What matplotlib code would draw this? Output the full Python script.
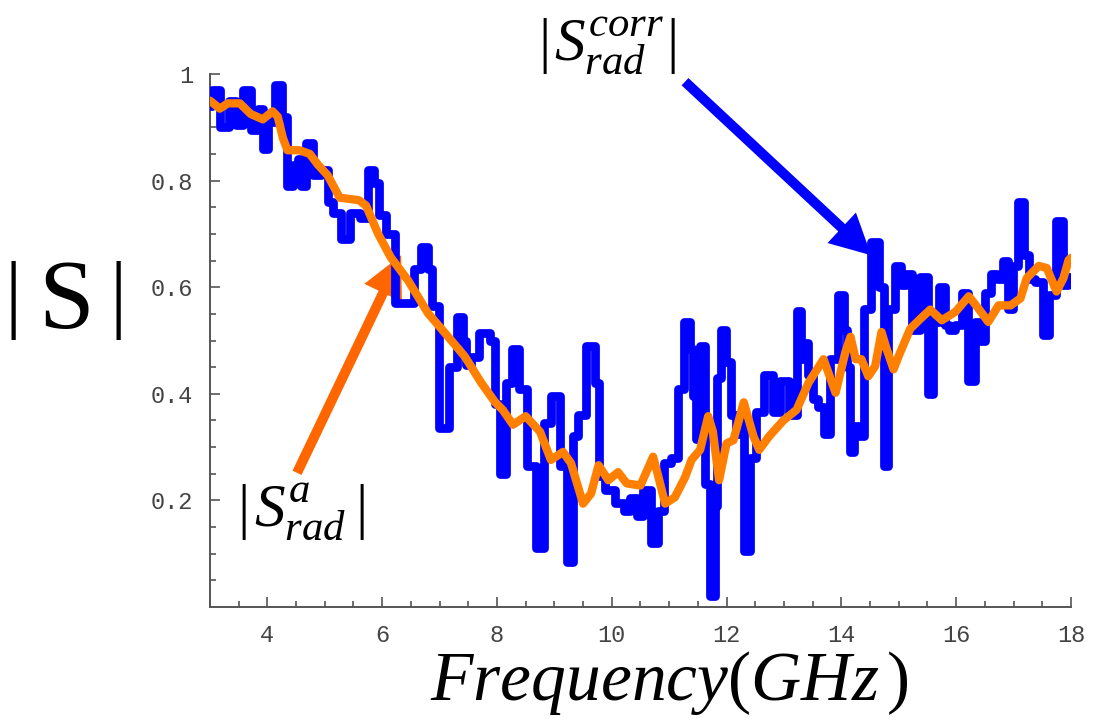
import matplotlib
matplotlib.use("Agg")
import matplotlib.pyplot as plt
import numpy as np

plt.rcParams['mathtext.fontset'] = 'custom'
plt.rcParams['mathtext.rm'] = 'Liberation Serif'
plt.rcParams['mathtext.it'] = 'Liberation Serif:italic'

# |S_rad^corr| (blue, noisy)
f_corr = [3.00, 3.08, 3.27, 3.40, 3.52, 3.63, 3.79, 3.88, 3.98, 4.05, 4.20, 4.30, 4.39, 4.50,
          4.56, 4.62, 4.74, 4.85, 5.02, 5.10, 5.20, 5.37, 5.52, 5.70, 5.81, 5.90, 5.98, 6.15,
          6.30, 6.50, 6.62, 6.75, 6.85, 6.89, 7.09, 7.25, 7.37, 7.44, 7.49, 7.62, 7.75, 7.84,
          7.93, 8.00, 8.10, 8.20, 8.32, 8.46, 8.58, 8.77, 8.86, 9.03, 9.15, 9.28, 9.37, 9.47,
          9.64, 9.77, 9.80, 9.98, 10.15, 10.26, 10.38, 10.50, 10.60, 10.77, 10.84, 10.98, 11.10,
          11.20, 11.33, 11.39, 11.45, 11.48, 11.60, 11.65, 11.79, 11.82, 11.86, 11.94, 12.03,
          12.12, 12.20, 12.26, 12.36, 12.47, 12.55, 12.76, 12.85, 13.02, 13.16, 13.28, 13.30,
          13.39, 13.46, 13.55, 13.64, 13.74, 13.86, 14.04, 14.07, 14.12, 14.18, 14.25, 14.35,
          14.44, 14.61, 14.70, 14.77, 14.86, 15.00, 15.08, 15.17, 15.29, 15.46, 15.55, 15.63,
          15.77, 15.83, 15.92, 16.04, 16.16, 16.27, 16.39, 16.44, 16.56, 16.65, 16.77, 16.86,
          16.95, 17.03, 17.14, 17.23, 17.31, 17.44, 17.58, 17.65, 17.82, 17.91, 18.00]
s_corr = [0.94, 0.97, 0.90, 0.95, 0.905, 0.97, 0.895, 0.935, 0.86, 0.91, 0.98, 0.92, 0.79, 0.83,
          0.84, 0.79, 0.87, 0.81, 0.82, 0.76, 0.74, 0.69, 0.74, 0.73, 0.82, 0.795, 0.735, 0.70,
          0.57, 0.57, 0.635, 0.675, 0.635, 0.565, 0.335, 0.45, 0.545, 0.50, 0.455, 0.47, 0.515, 0.515,
          0.50, 0.38, 0.25, 0.42, 0.485, 0.41, 0.265, 0.11, 0.345, 0.395, 0.265, 0.085, 0.32, 0.36,
          0.49, 0.42, 0.245, 0.22, 0.195, 0.18, 0.205, 0.17, 0.22, 0.12, 0.18, 0.27, 0.28,
          0.41, 0.535, 0.485, 0.395, 0.315, 0.49, 0.23, 0.02, 0.19, 0.43, 0.52, 0.46,
          0.36, 0.325, 0.35, 0.105, 0.28, 0.365, 0.435, 0.365, 0.425, 0.36, 0.555, 0.465,
          0.495, 0.435, 0.39, 0.375, 0.325, 0.465, 0.585, 0.52, 0.45, 0.29, 0.34, 0.32,
          0.56, 0.685, 0.60, 0.265, 0.56, 0.64, 0.605, 0.625, 0.52, 0.62, 0.40, 0.535,
          0.60, 0.53, 0.52, 0.53, 0.59, 0.425, 0.535, 0.50, 0.59, 0.625, 0.615, 0.65,
          0.56, 0.64, 0.76, 0.66, 0.615, 0.61, 0.51, 0.585, 0.725, 0.605, 0.62]

# |S_rad^a| (orange, smoother)
f_a = [3.00, 3.17, 3.31, 3.52, 3.71, 3.92, 4.09, 4.18, 4.27, 4.35, 4.56, 4.74, 4.88, 5.05,
       5.26, 5.48, 5.60, 5.72, 5.93, 6.15, 6.45, 6.80, 7.15, 7.44, 7.73, 7.97, 8.10, 8.28,
       8.50, 8.75, 8.94, 9.15, 9.29, 9.50, 9.64, 9.77, 9.94, 10.11, 10.26, 10.50, 10.72, 10.80,
       10.93, 11.10, 11.28, 11.39, 11.54, 11.68, 11.76, 11.87, 12.00, 12.12, 12.30, 12.47, 12.57,
       12.74, 12.99, 13.22, 13.43, 13.69, 13.90, 14.07, 14.16, 14.25, 14.35, 14.47, 14.59, 14.70,
       14.79, 14.91, 15.00, 15.20, 15.38, 15.55, 15.75, 15.99, 16.22, 16.39, 16.56, 16.74, 16.95,
       17.12, 17.23, 17.44, 17.58, 17.75, 17.87, 17.96, 18.00]
s_a = [0.95, 0.935, 0.945, 0.945, 0.925, 0.915, 0.93, 0.92, 0.88, 0.857, 0.857, 0.85, 0.83, 0.81,
       0.768, 0.765, 0.763, 0.753, 0.70, 0.656, 0.613, 0.551, 0.507, 0.47, 0.42, 0.384, 0.37, 0.342,
       0.358, 0.329, 0.276, 0.291, 0.27, 0.194, 0.213, 0.266, 0.238, 0.253, 0.232, 0.228, 0.282, 0.25,
       0.194, 0.206, 0.244, 0.276, 0.295, 0.358, 0.33, 0.238, 0.307, 0.313, 0.384, 0.32, 0.295,
       0.32, 0.35, 0.37, 0.421, 0.465, 0.402, 0.478, 0.507, 0.465, 0.465, 0.433, 0.452, 0.516,
       0.484, 0.446, 0.471, 0.522, 0.541, 0.558, 0.538, 0.554, 0.583, 0.56, 0.535, 0.566, 0.566,
       0.579, 0.617, 0.64, 0.636, 0.592, 0.617, 0.651, 0.655]

xticks = [4, 6, 8, 10, 12, 14, 16, 18]
yticks = [0.2, 0.4, 0.6, 0.8, 1.0]
ytick_labels = ['0.2', '0.4', '0.6', '0.8', '1']

fig = plt.figure(figsize=(10.96, 7.23), dpi=100)
ax = fig.add_axes([0.1916, 0.1604, 0.7855, 0.7372])

# blue one looks like steps (vertical jumps + plateaus)
ax.plot(f_corr, s_corr, color='#0000FF', lw=6.3, drawstyle='steps-mid',
        solid_joinstyle='round', solid_capstyle='round', zorder=3)
ax.plot(f_a, s_a, color='#FF8000', lw=6, solid_joinstyle='round', solid_capstyle='round', zorder=4)

ax.set_xlim(3, 18)
ax.set_ylim(0, 1)
for s in ['top', 'right']:
    ax.spines[s].set_visible(False)
for s in ['left', 'bottom']:
    ax.spines[s].set_color('#555555')
    ax.spines[s].set_linewidth(1.4)

ax.set_xticks(xticks)
ax.set_xticks(np.arange(3, 18.01, 0.5), minor=True)
ax.set_yticks(yticks)
ax.set_yticklabels(ytick_labels)
ax.set_yticks(np.arange(0.05, 1.001, 0.05), minor=True)
ax.tick_params(which='both', direction='in', color='#555555', width=1.2)
ax.tick_params(which='major', length=7)
ax.tick_params(which='minor', length=4)
ax.tick_params(axis='both', labelsize=17, labelcolor='#444444', pad=12)
for lab in ax.get_xticklabels() + ax.get_yticklabels():
    lab.set_family('Liberation Mono')

# arrows
ax.annotate('', xy=(14.52, 0.66), xycoords='data', xytext=(0.625, 0.887), textcoords='figure fraction',
            arrowprops=dict(arrowstyle='simple,head_length=2.9,head_width=3.0,tail_width=0.72',
                            color='#0000FF', lw=0, shrinkA=0, shrinkB=0, mutation_scale=10), zorder=5)
ax.annotate('', xy=(6.33, 0.66), xycoords='data', xytext=(0.271, 0.346), textcoords='figure fraction',
            arrowprops=dict(arrowstyle='simple,head_length=3.0,head_width=3.0,tail_width=0.72',
                            color='#FF6600', lw=0, shrinkA=0, shrinkB=0, mutation_scale=10), zorder=2)

# labels
serif = 'Liberation Serif'
fig.text(0.012, 0.585, '|', fontsize=62, family=serif, ha='center', va='center')
fig.text(0.060, 0.580, 'S', fontsize=72, family=serif, ha='center', va='center')
fig.text(0.108, 0.585, '|', fontsize=62, family=serif, ha='center', va='center')

fig.text(0.611, 0.055, r'$Frequency(GHz\,)$', fontsize=50, ha='center', va='center')

fig.text(0.497, 0.937, '|', fontsize=44, family=serif, ha='center', va='center')
fig.text(0.556, 0.937, r'$S^{corr}_{rad}$', fontsize=44, ha='center', va='center')
fig.text(0.614, 0.937, '|', fontsize=44, family=serif, ha='center', va='center')

fig.text(0.222, 0.292, '|', fontsize=44, family=serif, ha='center', va='center')
fig.text(0.274, 0.292, r'$S^{a}_{rad}$', fontsize=44, ha='center', va='center')
fig.text(0.330, 0.292, '|', fontsize=44, family=serif, ha='center', va='center')

fig.savefig('out.png', dpi=100)
